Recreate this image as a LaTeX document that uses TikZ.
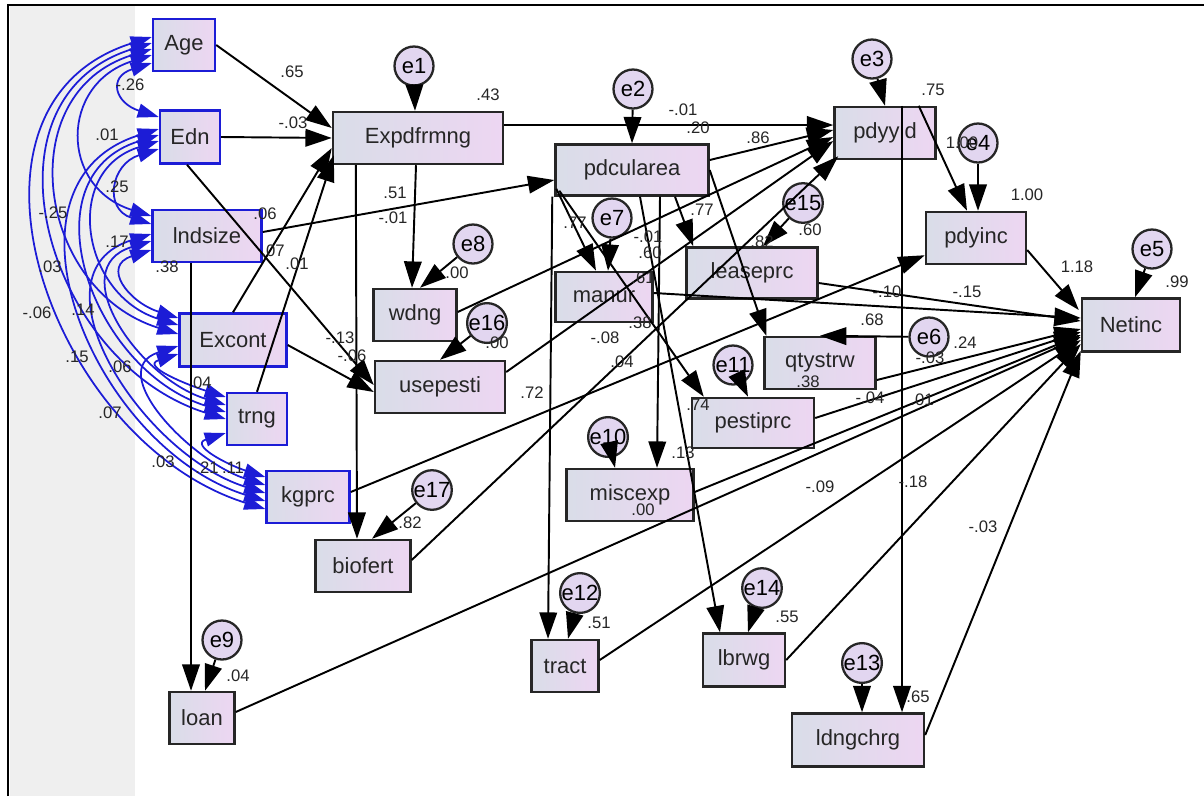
\documentclass[tikz,border=0pt]{standalone}
\usepackage{fontspec}
\setmainfont{Liberation Sans}
\usetikzlibrary{arrows.meta,calc}
\definecolor{boxl}{HTML}{D9DDE8}
\definecolor{boxr}{HTML}{EDD6F2}
\definecolor{errfill}{HTML}{E2D6F0}
\definecolor{covblue}{HTML}{1C1CD6}
\definecolor{band}{HTML}{EFEFEF}
\definecolor{labtext}{HTML}{262626}
\tikzset{
  endo/.style={draw=black!85, line width=1.4pt, left color=boxl, right color=boxr,
    font=\fontsize{12.5}{14}\selectfont, text=black!85, inner sep=0pt, minimum height=1.04cm},
  exo/.style={endo, draw=covblue},
  err/.style={circle, draw=black!85, line width=1.3pt, fill=errfill, minimum size=0.78cm,
    inner sep=0pt, font=\fontsize{12.5}{14}\selectfont},
  flow/.style={-{Triangle[length=15pt,width=10pt]}, line width=1.1pt},
  cov/.style={{Triangle[length=12pt,width=8pt]}-{Triangle[length=12pt,width=8pt]}, draw=covblue, line width=1pt},
  coef/.style={font=\fontsize{9.5}{10}\selectfont, text=labtext, inner sep=0pt},
}

\begin{document}
\begin{tikzpicture}[x=0.02cm, y=-0.02cm]
\useasboundingbox (0,0) rectangle (1204,796);
\fill[band] (10,5) rectangle (135,796);
\draw[line width=1.6pt] (8,796) -- (8,5) -- (1204,5);

% exogenous
\node[exo, minimum width=1.24cm] (age) at (184,45) {Age};
\node[exo, minimum width=1.2cm, minimum height=1.06cm] (edn) at (190,137) {Edn};
\node[exo, minimum width=2.18cm] (lnd) at (207,236) {lndsize};
\node[exo, minimum width=2.14cm, minimum height=1.06cm] (exc) at (233,340) {Excont};
\node[exo, minimum width=1.2cm] (trng) at (257,419) {trng};
\node[exo, minimum width=1.66cm] (kgprc) at (308,497) {kgprc};

% endogenous
\node[endo, minimum width=3.4cm] (expd) at (418,138) {Expdfrmng};
\node[endo, minimum width=3.06cm, minimum height=1.02cm] (pdcul) at (632,170) {pdcularea};
\node[endo, minimum width=2.02cm] (pdyyld) at (885,133) {pdyyld};
\node[endo, minimum width=2cm] (pdyinc) at (976,238) {pdyinc};
\node[endo, minimum width=1.96cm, minimum height=1.06cm] (netinc) at (1131,325) {Netinc};
\node[endo, minimum width=1.66cm] (wdng) at (415,315) {wdng};
\node[endo, minimum width=2.6cm] (usep) at (440,387) {usepesti};
\node[endo, minimum width=1.94cm, minimum height=1cm] (manur) at (604,297) {manur};
\node[endo, minimum width=2.62cm, minimum height=1.02cm] (lease) at (752,273) {leaseprc};
\node[endo, minimum width=2.22cm] (qtys) at (820,363) {qtystrw};
\node[endo, minimum width=2.44cm, minimum height=1cm] (pesti) at (753,423) {pestiprc};
\node[endo, minimum width=2.54cm] (misc) at (630,495) {miscexp};
\node[endo, minimum width=1.9cm] (biof) at (363,566) {biofert};
\node[endo, minimum width=1.3cm] (loan) at (202,718) {loan};
\node[endo, minimum width=1.34cm] (tract) at (565,666) {tract};
\node[endo, minimum width=1.64cm, minimum height=1.06cm] (lbrwg) at (744,660) {lbrwg};
\node[endo, minimum width=2.64cm, minimum height=1.06cm] (ldng) at (858,740) {ldngchrg};

% error terms
\foreach \n/\x/\y in {e1/414/66, e2/633/89, e3/872/59, e4/978/143, e5/1152/249, e6/929/337,
  e7/612/218, e8/473/244, e9/222/640, e10/608/437, e11/733/365, e12/580/593, e13/862/663,
  e14/762/588, e15/803/203, e16/487/323, e17/432/490}
  \node[err] (\n) at (\x,\y) {\n};

% covariances
\foreach \a/\b/\sa/\sb/\k/\c in {age/edn/18/-20/44/14, age/lnd/10/-20/92/29, age/exc/4/-6/142/44,
  age/trng/-2/0/180/56, age/kgprc/-8/12/217/68, edn/lnd/12/-12/48/15, edn/exc/4/-15/97/30,
  edn/trng/-2/-7/135/42, edn/kgprc/-8/4/173/54, lnd/exc/14/-22/50/16, lnd/trng/5/-14/88/27,
  lnd/kgprc/-2/-4/125/39, exc/trng/14/-22/38/12, exc/kgprc/6/-12/75/24, trng/kgprc/14/-20/37/12}
  \draw[cov] ($(\a.west)+(0,\sa)$) .. controls +(-\k,\c) and +(-\k,-\c) .. ($(\b.west)+(0,\sb)$);

% paths
\draw[flow] (age.east) -- ($(expd.west)+(0,-10)$);
\draw[flow] (edn.east) -- (expd.west);
\draw[flow] (exc.north) -- ($(expd.west)+(0,10)$);
\draw[flow] (trng.north) -- ($(expd.south west)+(2,-10)$);
\draw[flow] ($(edn.south)+(-3,0)$) -- ($(usep.west)+(0,-2)$);
\draw[flow] ($(exc.east)+(0,5)$) -- ($(usep.west)+(0,5)$);
\draw[flow] ($(lnd.east)+(0,-4)$) -- ($(pdcul.west)+(0,10)$);
\draw[flow] ($(lnd.south)+(-16,0)$) -- ($(loan.north)+(-11,0)$);
\draw[flow] ($(kgprc.east)+(0,-5)$) -- ($(pdyinc.south west)+(0,-10)$);
\draw[flow] ($(expd.east)+(0,-13)$) -- ($(pdyyld.west)+(0,-8)$);
\draw[flow] ($(expd.south)+(-2,0)$) -- ($(wdng.north)+(-3,0)$);
\draw[flow] ($(expd.south west)+(24,0)$) -- ($(biof.north)+(-6,0)$);
\draw[flow] ($(wdng.east)+(0,-3)$) -- ($(pdyyld.west)+(0,4)$);
\draw[flow] ($(usep.east)+(0,-15)$) -- ($(pdyyld.west)+(0,8)$);
\draw[flow] ($(biof.east)+(0,-6)$) -- ($(pdyyld.south west)+(5,-4)$);
\draw[flow] ($(pdcul.east)+(0,-10)$) -- ($(pdyyld.west)+(0,-3)$);
\draw[flow] ($(pdcul.south west)+(2,-8)$) -- ($(manur.north)+(-8,0)$);
\draw[flow] ($(pdcul.south west)+(-2,0)$) -- ($(tract.north)+(-17,0)$);
\draw[flow] ($(pdcul.south west)+(5,-6)$) -- ($(pesti.north west)+(13,0)$);
\draw[flow] ($(pdcul.south)+(28,0)$) -- ($(misc.north)+(27,0)$);
\draw[flow] ($(pdcul.south)+(8,0)$) -- ($(lbrwg.north)+(-24,0)$);
\draw[flow] ($(pdcul.south)+(43,0)$) -- ($(lease.north west)+(8,0)$);
\draw[flow] (pdcul.east) -- ($(qtys.north west)+(3,0)$);
\draw[flow] ($(pdyyld.north east)+(-18,0)$) -- ($(pdyinc.north)+(-9,0)$);
\draw[flow] ($(pdyyld.north)+(17,0)$) -- ($(ldng.north)+(44,0)$);
\draw[flow] ($(pdyinc.east)+(0,12)$) -- ($(netinc.west)+(-2,-15)$);
\draw[flow] ($(manur.east)+(0,-4)$) -- ($(netinc.west)+(0,-7)$);
\draw[flow] ($(lease.east)+(0,10)$) -- ($(netinc.west)+(0,-4)$);
\draw[flow] ($(qtys.east)+(0,17)$) -- ($(netinc.west)+(0,4)$);
\draw[flow] ($(pesti.east)+(0,-5)$) -- ($(netinc.west)+(0,7)$);
\draw[flow] ($(misc.east)+(0,-3)$) -- ($(netinc.west)+(0,10)$);
\draw[flow] ($(loan.east)+(0,-6)$) -- ($(netinc.west)+(0,12)$);
\draw[flow] ($(tract.east)+(0,-6)$) -- ($(netinc.west)+(0,15)$);
\draw[flow] (lbrwg.east) -- ($(netinc.west)+(0,19)$);
\draw[flow] ($(ldng.east)+(0,-5)$) -- ($(netinc.south west)+(0,-2)$);

% error arrows
\draw[flow] (e1) -- ($(expd.north)+(-3,0)$);
\draw[flow] (e2) -- (pdcul.north);
\draw[flow] (e3) -- (pdyyld.north);
\draw[flow] (e4) -- ($(pdyinc.north)+(2,0)$);
\draw[flow] (e5) -- ($(netinc.north)+(4,0)$);
\draw[flow] (e6) -- (qtys.north);
\draw[flow] (e7) -- ($(manur.north)+(4,0)$);
\draw[flow] (e8) -- ($(wdng.north)+(5,0)$);
\draw[flow] (e9) -- ($(loan.north)+(3,0)$);
\draw[flow] (e10) -- ($(misc.north)+(-15,0)$);
\draw[flow] (e11) -- ($(pesti.north)+(-5,0)$);
\draw[flow] (e12) -- ($(tract.north)+(3,0)$);
\draw[flow] (e13) -- ($(ldng.north)+(4,0)$);
\draw[flow] (e14) -- ($(lbrwg.north)+(4,0)$);
\draw[flow] (e15) -- ($(lease.north)+(11,0)$);
\draw[flow] (e16) -- (usep.north);
\draw[flow] (e17) -- ($(biof.north)+(9,0)$);

% estimates
\foreach \x/\y/\t [count=\i] in {292/72/.65, 293/123/-.03, 488/95/.43, 683/110/-.01, 698/128/.20,
  758/138/.86, 933/90/.75, 962/143/1.00, 1027/195/1.00, 1077/267/1.18, 1177/282/.99,
  395/193/.51, 393/218/-.01, 265/214/.06, 273/251/.07, 297/264/.01, 167/267/.38,
  575/223/.77, 702/210/.77, 648/237/-.01, 650/253/.60, 643/278/.61, 640/323/.38,
  605/338/-.08, 622/362/.04, 532/393/.72, 457/273/.00, 497/343/.00, 340/338/-.13, 352/356/-.06,
  810/230/.60, 762/242/.82, 887/292/-.10, 967/292/-.15, 872/320/.68, 965/343/.24, 930/358/-.03,
  808/382/.38, 870/398/-.04, 922/400/.01, 698/405/.74, 683/453/.13, 643/510/.00, 820/487/-.09,
  913/482/-.18, 983/527/-.03, 599/623/.51, 787/617/.55, 918/697/.65, 238/676/.04, 410/523/.82}
  \node[coef] (c\i) at (\x,\y) {\t};

% correlations
\foreach \x/\y/\t [count=\i] in {130/85/-.26, 107/135/.01, 117/187/.25, 53/213/-.25, 117/242/.17,
  50/267/.03, 37/313/-.06, 83/310/.14, 77/357/.15, 120/367/.06, 110/413/.07, 163/462/.03,
  207/468/.21, 233/468/.11, 200/383/.04}
  \node[coef] (r\i) at (\x,\y) {\t};

\end{tikzpicture}
\end{document}
